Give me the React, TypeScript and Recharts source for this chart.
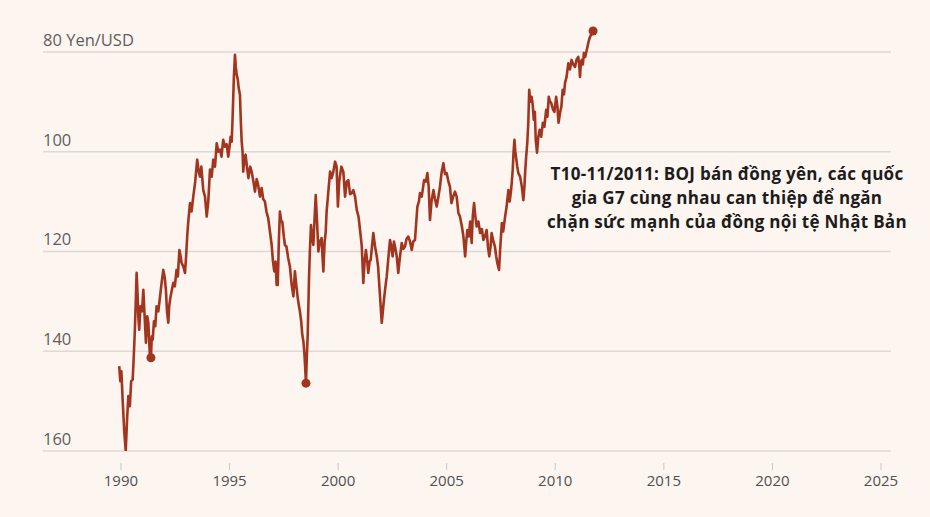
import { LineChart, Line, XAxis, YAxis, ReferenceLine, ReferenceDot } from "recharts";

const years = [
  1989.92, 1989.97, 1990.02, 1990.08, 1990.15, 1990.22, 1990.28, 1990.34, 1990.41, 1990.47,
  1990.54, 1990.6, 1990.64, 1990.69, 1990.72, 1990.76, 1990.8, 1990.84, 1990.9, 1990.97,
  1991.03, 1991.09, 1991.15, 1991.21, 1991.26, 1991.3, 1991.34, 1991.38, 1991.42, 1991.46,
  1991.52, 1991.58, 1991.64, 1991.72, 1991.8, 1991.88, 1991.95, 1992.01, 1992.07, 1992.12,
  1992.18, 1992.22, 1992.26, 1992.33, 1992.41, 1992.48, 1992.56, 1992.62, 1992.69, 1992.75,
  1992.79, 1992.87, 1992.95, 1993.0, 1993.05, 1993.1, 1993.18, 1993.25, 1993.33, 1993.42,
  1993.51, 1993.58, 1993.64, 1993.7, 1993.79, 1993.87, 1993.95, 1994.02, 1994.1, 1994.18,
  1994.25, 1994.33, 1994.41, 1994.48, 1994.56, 1994.63, 1994.71, 1994.79, 1994.87, 1994.94,
  1995.0, 1995.05, 1995.1, 1995.15, 1995.2, 1995.25, 1995.29, 1995.33, 1995.38, 1995.42,
  1995.48, 1995.52, 1995.56, 1995.6, 1995.63, 1995.7, 1995.74, 1995.8, 1995.87, 1995.95,
  1996.02, 1996.1, 1996.17, 1996.25, 1996.32, 1996.4, 1996.48, 1996.55, 1996.63, 1996.7,
  1996.78, 1996.86, 1996.94, 1997.0, 1997.06, 1997.12, 1997.17, 1997.22, 1997.27, 1997.32,
  1997.38, 1997.43, 1997.5, 1997.55, 1997.62, 1997.7, 1997.78, 1997.86, 1997.94, 1998.01,
  1998.08, 1998.14, 1998.2, 1998.24, 1998.3, 1998.35, 1998.4, 1998.44, 1998.48, 1998.52,
  1998.56, 1998.6, 1998.63, 1998.66, 1998.7, 1998.75, 1998.8, 1998.86, 1998.92, 1998.97,
  1999.03, 1999.09, 1999.16, 1999.24, 1999.28, 1999.32, 1999.38, 1999.43, 1999.47, 1999.55,
  1999.63, 1999.7, 1999.78, 1999.86, 1999.93, 1999.99, 2000.05, 2000.15, 2000.24, 2000.32,
  2000.4, 2000.47, 2000.55, 2000.63, 2000.7, 2000.78, 2000.86, 2000.94, 2001.01, 2001.09,
  2001.16, 2001.22, 2001.28, 2001.34, 2001.39, 2001.45, 2001.5, 2001.56, 2001.62, 2001.7,
  2001.78, 2001.84, 2001.9, 2001.96, 2002.01, 2002.06, 2002.11, 2002.18, 2002.24, 2002.3,
  2002.39, 2002.45, 2002.51, 2002.57, 2002.62, 2002.7, 2002.77, 2002.85, 2002.93, 2003.0,
  2003.08, 2003.15, 2003.23, 2003.31, 2003.39, 2003.46, 2003.54, 2003.6, 2003.65, 2003.72,
  2003.77, 2003.85, 2003.96, 2004.04, 2004.11, 2004.17, 2004.23, 2004.3, 2004.39, 2004.46,
  2004.54, 2004.62, 2004.69, 2004.77, 2004.85, 2004.92, 2005.0, 2005.08, 2005.15, 2005.22,
  2005.3, 2005.38, 2005.46, 2005.54, 2005.61, 2005.7, 2005.77, 2005.85, 2005.9, 2005.95,
  2006.02, 2006.08, 2006.15, 2006.2, 2006.26, 2006.32, 2006.38, 2006.46, 2006.54, 2006.62,
  2006.69, 2006.76, 2006.84, 2006.9, 2006.96, 2007.02, 2007.07, 2007.15, 2007.22, 2007.28,
  2007.33, 2007.41, 2007.47, 2007.54, 2007.6, 2007.69, 2007.76, 2007.84, 2007.9, 2007.95,
  2008.0, 2008.04, 2008.08, 2008.12, 2008.16, 2008.19, 2008.25, 2008.3, 2008.38, 2008.46,
  2008.53, 2008.58, 2008.61, 2008.66, 2008.71, 2008.76, 2008.8, 2008.85, 2008.91, 2008.96,
  2009.01, 2009.06, 2009.1, 2009.16, 2009.22, 2009.28, 2009.35, 2009.43, 2009.5, 2009.58,
  2009.64, 2009.7, 2009.76, 2009.81, 2009.9, 2009.96, 2010.04, 2010.1, 2010.15, 2010.22,
  2010.28, 2010.34, 2010.4, 2010.45, 2010.52, 2010.6, 2010.68, 2010.75, 2010.83, 2010.91,
  2010.98, 2011.06, 2011.1, 2011.14, 2011.18, 2011.22, 2011.27, 2011.32, 2011.38, 2011.45,
  2011.52, 2011.56, 2011.6, 2011.66, 2011.74,
];

const yen = [
  143, 146, 144, 150, 156, 160, 153.8, 149, 151, 146,
  145.7, 140, 135.7, 129, 124.3, 128, 133, 135.7, 131, 132,
  127.7, 133, 138.3, 133, 134.3, 138, 141.7, 141.3, 137, 137.7,
  134, 135, 131, 132, 129, 126, 123.7, 125, 127.7, 132,
  134.3, 131, 129.7, 128, 126.3, 127, 123.7, 125, 119.7, 121,
  122.3, 123, 124.3, 121, 117, 114, 110.3, 112, 109, 106,
  101.6, 104, 105, 103, 107.7, 109, 113, 110, 103.6, 105,
  101.6, 103, 98.3, 100, 99.6, 101, 97.6, 99, 98.5, 101,
  99, 97, 98, 92, 85, 80.6, 83, 84.6, 85.5, 87.2,
  88.6, 94, 98, 100, 104, 101, 100.6, 103, 105.3, 103,
  104, 106, 108, 105.5, 106.7, 109, 107.3, 109.5, 110, 112,
  113.3, 116, 118.7, 122, 124, 122, 126.7, 126.7, 118, 112,
  114, 114, 117, 118.7, 119, 121.3, 123, 126.7, 129, 124,
  127, 129.3, 131, 132, 134, 136.7, 138, 140, 143, 146.4,
  141, 136.7, 131, 125.3, 120, 114.7, 117, 118.7, 113, 108.7,
  114, 120, 118, 117.3, 121, 124, 118, 116, 112, 108,
  104, 105.3, 104, 102, 103, 111, 106, 103, 104, 109,
  106, 105.7, 108.5, 108.3, 107.7, 109, 111.7, 113, 115.7, 119,
  126.3, 122, 119.7, 122, 124.3, 122, 121.7, 119, 116.3, 119,
  121, 123, 127, 131, 134.3, 132, 129.7, 127, 125, 122,
  117.7, 119, 121, 118, 119, 121, 124.3, 121, 118.3, 119.5,
  119, 117.5, 117, 118, 119.7, 118, 117.7, 114, 111, 110,
  108.3, 109, 105.7, 106, 104.3, 107, 113.7, 110, 107.7, 109.5,
  111, 109, 107, 104, 102.3, 104.5, 104.3, 106, 107, 110.3,
  109, 108, 109, 112.3, 113, 115, 117, 121, 118, 115.7,
  117, 114, 118.3, 113, 110.3, 113, 115, 114, 116.3, 115.5,
  117.7, 117, 115.7, 119, 121, 119, 116.3, 118, 119, 121,
  122.3, 123.7, 119, 114.3, 116, 113, 111, 107.7, 110, 108.3,
  106, 103.6, 100, 97.6, 100, 101, 103, 104.3, 105, 107,
  109.7, 107, 104.3, 101, 98.3, 94, 87.6, 90, 89, 90.5,
  93.6, 92, 97.6, 100.2, 97, 95.6, 97, 94.2, 95, 91.6,
  93, 89, 90, 90.2, 91.6, 92, 89, 91, 94.2, 92.2,
  91, 87.6, 88.5, 86.2, 85, 82.3, 83.5, 81.6, 82.5, 83,
  81.5, 81, 82.5, 85, 82, 81.6, 82.5, 80.2, 81, 79.6,
  78.2, 77.5, 77, 76.5, 75.8,
];

const markerYears = [1991.38, 1998.52, 2011.74];
const markerYen = [141.3, 146.4, 75.8];

const xTicks = [1990, 1995, 2000, 2005, 2010, 2015, 2020, 2025];
const yTicks = [80, 100, 120, 140, 160];
const yUnit = "Yen/USD";

const annotationLines = [
  "T10-11/2011: BOJ bán đồng yên, các quốc",
  "gia G7 cùng nhau can thiệp để ngăn",
  "chặn sức mạnh của đồng nội tệ Nhật Bản",
];

const data = years.map((year, i) => ({ year, yen: yen[i] }));

const RED = "#a1351f";
const BG = "#fdf5f0";
const FONT = "'Open Sans', Lato, sans-serif";

function GridLabel(props: any) {
  const { viewBox, value } = props;
  return (
    <text x={viewBox.x} y={viewBox.y - 6} textAnchor="start" fill="#5e5e5e" fontSize={16.5} fontFamily={FONT}>
      {value}
    </text>
  );
}

function XTick(props: any) {
  const { x, y, payload } = props;
  return (
    <g>
      <line x1={x} x2={x} y1={y + 12} y2={y + 19} stroke="#c9c6c3" strokeWidth={1} />
      <text x={x} y={y + 35} textAnchor="middle" fill="#4f4f4f" fontSize={15} fontFamily={FONT}>
        {payload.value}
      </text>
    </g>
  );
}

export default function App() {
  return (
    <div style={{ position: "fixed", left: 0, top: 0, width: 930, height: 517, background: BG }}>
      <LineChart width={930} height={517} data={data} margin={{ top: 22, right: 39, bottom: 26, left: 43 }}>
        <XAxis
          dataKey="year"
          type="number"
          domain={[1986.41, 2025.46]}
          allowDataOverflow
          ticks={xTicks}
          axisLine={false}
          tickLine={false}
          tickSize={0}
          tickMargin={0}
          height={40}
          tick={<XTick />}
        />
        <YAxis type="number" domain={[74, 160]} reversed allowDataOverflow ticks={yTicks} hide width={0} />
        {yTicks.map((v, i) => (
          <ReferenceLine
            key={v}
            y={v}
            stroke="#dcd9d6"
            strokeWidth={1.5}
            label={<GridLabel value={i === 0 ? `${v} ${yUnit}` : `${v}`} />}
          />
        ))}
        <Line
          type="linear"
          dataKey="yen"
          stroke={RED}
          strokeWidth={2.6}
          strokeLinejoin="round"
          dot={false}
          isAnimationActive={false}
        />
        {markerYears.map((yr, i) => (
          <ReferenceDot key={yr} x={yr} y={markerYen[i]} r={4.5} fill={RED} stroke="none" />
        ))}
      </LineChart>
      <div
        style={{
          position: "absolute",
          left: 527,
          top: 162,
          width: 400,
          textAlign: "center",
          fontFamily: FONT,
          fontWeight: 700,
          fontSize: 17,
          letterSpacing: 0.3,
          lineHeight: "24px",
          color: "#1c1c1c",
        }}
      >
        {annotationLines.map((l) => (
          <div key={l}>{l}</div>
        ))}
      </div>
    </div>
  );
}
